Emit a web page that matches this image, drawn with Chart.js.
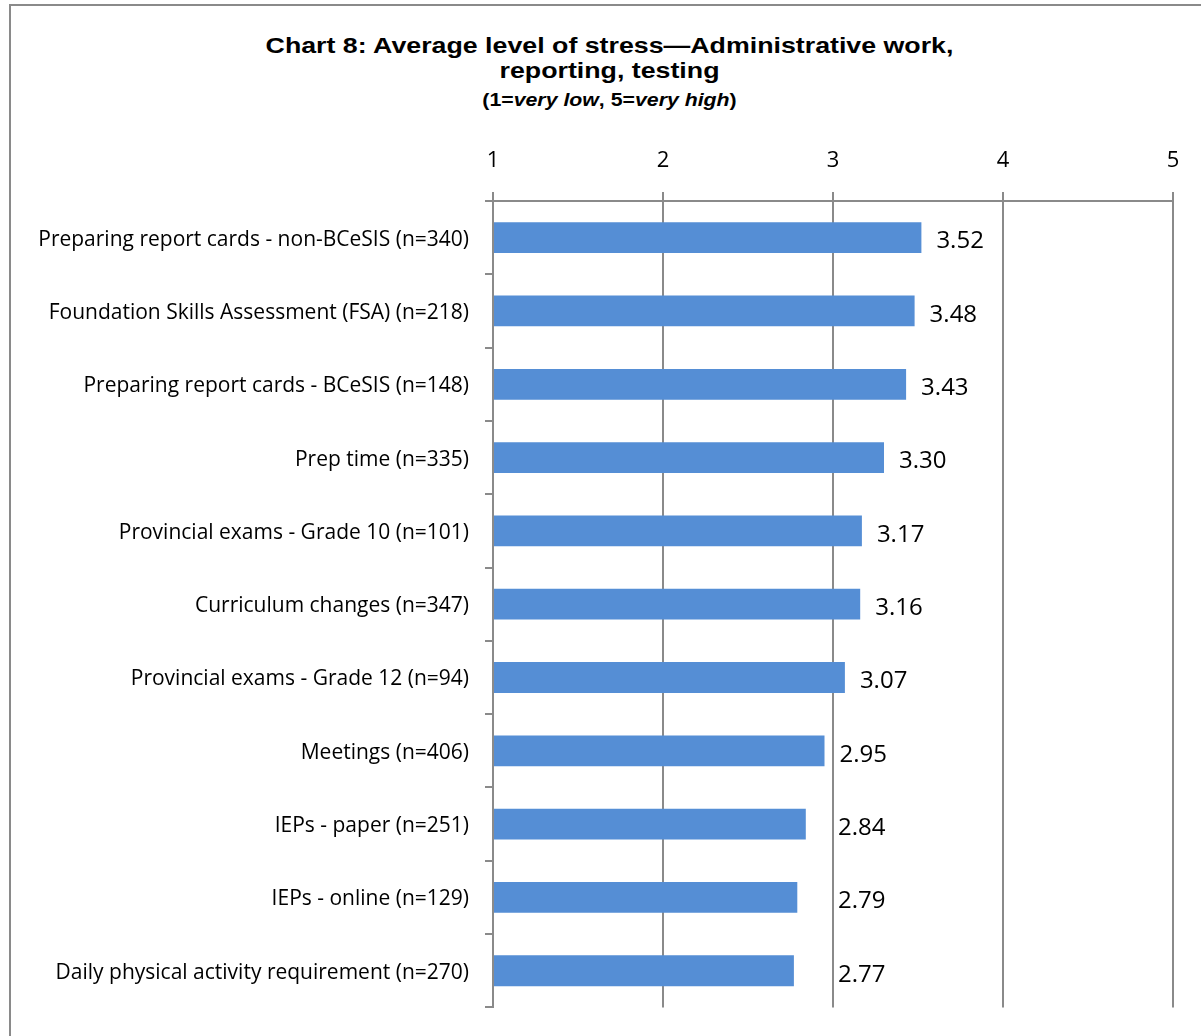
<!DOCTYPE html>
<html>
<head>
<meta charset="utf-8">
<script src="https://cdn.jsdelivr.net/npm/chart.js@4"></script>
<style>
  html, body { margin: 0; padding: 0; background: #fff; }
  #wrap { position: relative; width: 1201px; height: 1036px; overflow: hidden; }
  #frame { position: absolute; left: 9px; top: 4px; width: 1300px; height: 1200px; border: 2px solid #8a8a8a; box-sizing: border-box; }
  #title { position: absolute; left: 10px; width: 1199px; top: 33px; text-align: center; font-family: "Liberation Sans", Arial, sans-serif; font-weight: bold; color: #000; transform: scaleX(1.216); transform-origin: 50% 0; }
  #title .t { font-size: 22px; line-height: 25px; }
  #title .s { font-size: 17.5px; line-height: 20px; margin-top: 7px; }
  canvas { position: absolute; left: 0; top: 0; }
</style>
</head>
<body>
<div id="wrap">
  <div id="frame"></div>
  <div id="title">
    <div class="t">Chart 8: Average level of stress—Administrative work,<br>reporting, testing</div>
    <div class="s">(1=<i>very low</i>, 5=<i>very high</i>)</div>
  </div>
  <canvas id="chart" width="1201" height="1036"></canvas>
</div>
<script>
const categories = [
  "Preparing report cards - non-BCeSIS (n=340)",
  "Foundation Skills Assessment (FSA) (n=218)",
  "Preparing report cards - BCeSIS (n=148)",
  "Prep time (n=335)",
  "Provincial exams - Grade 10 (n=101)",
  "Curriculum changes (n=347)",
  "Provincial exams - Grade 12 (n=94)",
  "Meetings (n=406)",
  "IEPs - paper (n=251)",
  "IEPs - online (n=129)",
  "Daily physical activity requirement (n=270)"
];
const stressValues = [3.52, 3.48, 3.43, 3.30, 3.17, 3.16, 3.07, 2.95, 2.84, 2.79, 2.77];
const tickValues = [1, 2, 3, 4, 5];

const labelFont = "'Open Sans', Lato, sans-serif";
const gridGray = "#8a8a8a";

// value labels to the right of each bar, kept clear of the "3" gridline
const valueLabels = {
  id: "valueLabels",
  afterDatasetsDraw(chart) {
    const ctx = chart.ctx;
    const meta = chart.getDatasetMeta(0);
    const x3 = chart.scales.x.getPixelForValue(3);
    ctx.save();
    ctx.font = "24px " + labelFont;
    ctx.fillStyle = "#000";
    ctx.textBaseline = "middle";
    ctx.textAlign = "left";
    meta.data.forEach((bar, i) => {
      let x = bar.x + 15;
      if (x < x3 + 5) x = x3 + 5;
      ctx.fillText(stressValues[i].toFixed(2), x, bar.y + 4);
    });
    ctx.restore();
  }
};

new Chart(document.getElementById("chart"), {
  type: "bar",
  data: {
    labels: categories,
    datasets: [{
      data: stressValues,
      base: 1,
      backgroundColor: "#558ed5",
      borderWidth: 0,
      barPercentage: 0.42,
      categoryPercentage: 1
    }]
  },
  options: {
    indexAxis: "y",
    responsive: false,
    animation: false,
    layout: { padding: { left: 0, top: 0, right: 28, bottom: 25 } },
    plugins: {
      legend: { display: false },
      tooltip: { enabled: false }
    },
    scales: {
      x: {
        position: "top",
        min: 1,
        max: 5,
        afterBuildTicks(scale) {
          scale.ticks = tickValues.map(v => ({ value: v }));
        },
        afterFit(scale) { scale.height = 201; },
        ticks: {
          font: { family: labelFont, size: 22 },
          color: "#000",
          padding: 18
        },
        grid: {
          color: gridGray,
          lineWidth: 2,
          tickLength: 9
        },
        border: { color: gridGray, width: 2 }
      },
      y: {
        afterFit(scale) { scale.width = 493; },
        ticks: {
          font: { family: labelFont, size: 21 },
          color: "#000",
          padding: 16,
          labelOffset: 2
        },
        grid: {
          offset: true,
          drawOnChartArea: false,
          color: gridGray,
          lineWidth: 2,
          tickLength: 8
        },
        border: { color: gridGray, width: 2 }
      }
    }
  },
  plugins: [valueLabels]
});
</script>
</body>
</html>
